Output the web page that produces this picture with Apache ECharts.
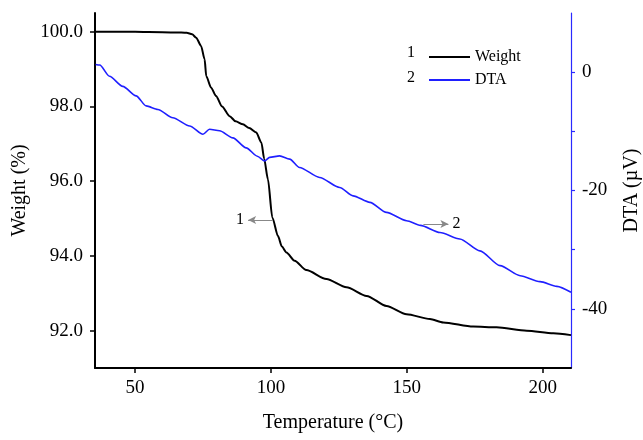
<!DOCTYPE html>
<html>
<head>
<meta charset="utf-8">
<script src="https://cdn.jsdelivr.net/npm/echarts@6/dist/echarts.min.js"></script>
<style>html,body{margin:0;padding:0;background:#fff}#c{width:643px;height:440px}</style>
</head>
<body>
<div id="c"></div>
<script>
const weightTemp = [35.3, 45, 55, 65, 69, 71, 72.5, 74.3, 75.6, 76.2, 78, 79.8, 82, 84.8, 87, 89.7, 92, 94.6, 96.5, 97.5, 98.9, 100.5, 102.6, 104, 105.7, 108.7, 113, 120.4, 127.8, 135.2, 142.5, 149.9, 158.5, 163.4, 174.4, 183, 194.1, 203.9, 210.4];
const weightVal  = [100.0, 100.0, 99.99, 99.98, 99.97, 99.93, 99.84, 99.62, 99.26, 98.81, 98.5, 98.28, 98.0, 97.74, 97.6, 97.52, 97.42, 97.3, 97.03, 96.6, 96.05, 95.03, 94.53, 94.25, 94.09, 93.87, 93.62, 93.38, 93.16, 92.93, 92.66, 92.44, 92.31, 92.22, 92.11, 92.09, 92.0, 91.93, 91.88];
const dtaTemp = [35.5, 37, 40.6, 45.5, 50.4, 54.1, 58.4, 63.9, 70.1, 75, 77.4, 81.1, 86, 90.9, 95, 97.7, 99.5, 103.2, 106.9, 110.5, 117.9, 125.3, 130.2, 136.4, 142.5, 149.9, 155, 162.2, 169.5, 176.9, 184.3, 191.7, 199, 205.2, 210.4];
const dtaVal  = [1.3, 1.2, -0.7, -2.4, -4.0, -5.7, -6.3, -7.7, -9.1, -10.5, -9.65, -9.9, -11.1, -12.8, -14.2, -15.0, -14.4, -14.15, -14.7, -16.1, -17.8, -19.5, -20.9, -22.0, -23.7, -25.1, -25.9, -27.1, -28.2, -30.2, -32.7, -34.4, -35.4, -36.2, -37.2];
const xTicks = [50, 100, 150, 200];
const weightTicks = [92, 94, 96, 98, 100];
const dtaLabelTicks = [-40, -20, 0];
const dtaTicks = [-40, -30, -20, -10, 0];
const arrow1 = [[100.7, 94.96], [91.6, 94.96]];
const arrow2 = [[156.1, -25.66], [165.3, -25.66]];

const serif = 'Liberation Serif';
const weightData = weightTemp.map((t, i) => [t, weightVal[i]]);
const dtaData = dtaTemp.map((t, i) => [t, dtaVal[i]]);

const chart = echarts.init(document.getElementById('c'));
chart.setOption({
  animation: false,
  backgroundColor: '#fff',
  textStyle: { fontFamily: serif, color: '#000' },
  grid: { left: 95, right: 72, top: 13, bottom: 72, containLabel: false, outerBoundsMode: 'none' },
  legend: {
    orient: 'vertical', left: 424, top: 44, itemWidth: 41, itemHeight: 2, itemGap: 7,
    icon: 'rect',
    textStyle: { fontFamily: serif, fontSize: 16, color: '#000' },
    data: ['Weight', 'DTA']
  },
  graphic: [
    { type: 'text', left: 407, top: 45, style: { text: '1', fontFamily: serif, fontSize: 16, fill: '#000' } },
    { type: 'text', left: 407, top: 70, style: { text: '2', fontFamily: serif, fontSize: 16, fill: '#000' } }
  ],
  xAxis: {
    type: 'value', min: 35.27, max: 210.4,
    name: 'Temperature (°C)', nameLocation: 'middle', nameGap: 45,
    nameTextStyle: { fontFamily: serif, fontSize: 20, color: '#000' },
    axisLine: { show: true, onZero: false, lineStyle: { color: '#000', width: 2 } },
    axisTick: { show: true, length: 5, customValues: xTicks, lineStyle: { color: '#000', width: 1.5 } },
    axisLabel: { customValues: xTicks, fontFamily: serif, fontSize: 19, color: '#000', margin: 11 },
    splitLine: { show: false }
  },
  yAxis: [
    {
      type: 'value', min: 91, max: 100.5, position: 'left',
      name: 'Weight (%)', nameLocation: 'middle', nameGap: 59,
      nameTextStyle: { fontFamily: serif, fontSize: 20, color: '#000' },
      axisLine: { show: true, onZero: false, lineStyle: { color: '#000', width: 2 } },
      axisTick: { show: true, length: 5, customValues: weightTicks, lineStyle: { color: '#000', width: 1.5 } },
      axisLabel: { customValues: weightTicks, formatter: v => v.toFixed(1), fontFamily: serif, fontSize: 19, color: '#000', margin: 12 },
      splitLine: { show: false }
    },
    {
      type: 'value', min: -50, max: 10, position: 'right',
      name: 'DTA (µV)', nameLocation: 'middle', nameGap: 51,
      nameTextStyle: { fontFamily: serif, fontSize: 20, color: '#000' },
      axisLine: { show: true, onZero: false, lineStyle: { color: '#2a2aff', width: 1.2 } },
      axisTick: { show: true, length: 4, customValues: dtaTicks, lineStyle: { color: '#2a2aff', width: 1.2 } },
      axisLabel: { customValues: dtaLabelTicks, fontFamily: serif, fontSize: 19, color: '#000', margin: 11 },
      splitLine: { show: false }
    }
  ],
  series: [
    {
      name: 'Weight', type: 'line', yAxisIndex: 0, data: weightData,
      showSymbol: false, smooth: 0.25, smoothMonotone: 'x',
      lineStyle: { color: '#000', width: 2 }, itemStyle: { color: '#000' },
      markLine: {
        silent: true, symbol: ['none', 'arrow'], symbolSize: [6, 8], animation: false,
        lineStyle: { color: '#888', width: 1, type: 'solid' },
        label: { show: true, position: 'end', formatter: '1', fontFamily: serif, fontSize: 16, color: '#000', distance: 4 },
        data: [[{ coord: arrow1[0] }, { coord: arrow1[1] }]]
      }
    },
    {
      name: 'DTA', type: 'line', yAxisIndex: 1, data: dtaData,
      showSymbol: false, smooth: 0.25, smoothMonotone: 'x',
      lineStyle: { color: '#1f1fff', width: 1.6 }, itemStyle: { color: '#1f1fff' },
      markLine: {
        silent: true, symbol: ['none', 'arrow'], symbolSize: [6, 8], animation: false,
        lineStyle: { color: '#888', width: 1, type: 'solid' },
        label: { show: true, position: 'end', formatter: '2', fontFamily: serif, fontSize: 16, color: '#000', distance: 4 },
        data: [[{ coord: arrow2[0] }, { coord: arrow2[1] }]]
      }
    }
  ]
});
</script>
</body>
</html>
